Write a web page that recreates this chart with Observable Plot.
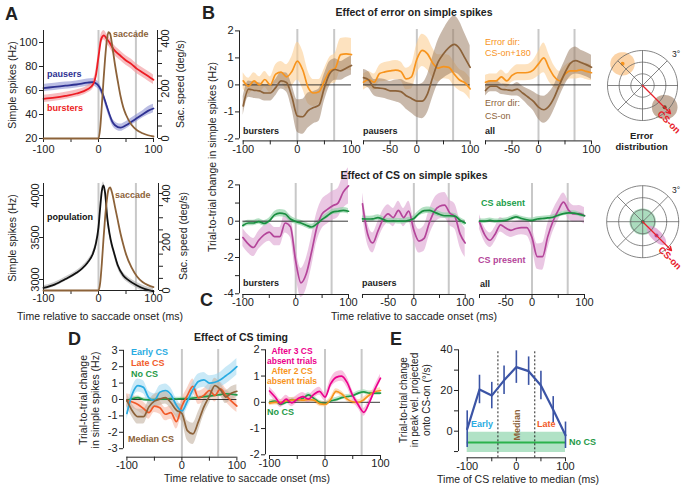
<!DOCTYPE html>
<html><head><meta charset="utf-8">
<script src="https://cdn.jsdelivr.net/npm/d3@7"></script>
<script src="https://cdn.jsdelivr.net/npm/@observablehq/plot@0.6"></script>
<style>
body{margin:0;background:#fff}
#fig{position:relative;width:685px;height:487px;overflow:hidden;background:#fff;font-family:'Liberation Sans',Arial,Helvetica,sans-serif;color:#222}
.t{position:absolute;white-space:nowrap;line-height:1}
</style></head><body><div id="fig"></div>
<script>
// ================= DATA =================
const T = [-100,-90,-80,-70,-60,-50,-40,-30,-20,-10,0,10,20,30,40,50,60,70,80,90,100];
const grayLinesA = [0, 68];
const grayLinesD = [0, 66];
const timeTicks = [-100,-50,0,50,100];

// Panel A top
const tA = [-100,-80,-60,-40,-20,-10,-5,0,5,10,15,20,25,30,40,50,60,70,80,90,100];
const pausersHz  = [62,63,64,65,66.5,67,66,64,60,54,47,40,34,31,29,31,34,37,40,43,45];
const pausersSem = [3,3,3,3,3,3,3,3,3,3,3,3,3,3,3,3,3,3,3,3.5,3.5];
const burstersHz = [53,54,55.5,57.5,61,65,72,88,103,106,103,100,96,93,89,85,82,78,75,72,69];
const burstersSem= [3,3,3,3,3,3.5,4,4,4,4,4,4,4,4,4,4,4,4,4,4,4];
const tSac = [-100,0,3,6,9,12,15,18,21,25,30,35,40,45,50,60,70,80,90,100];
const sacSpeedTop    = [0,0,40,130,230,320,390,425,420,370,295,230,170,125,95,55,33,21,13,8];
const sacSpeedBottom = [0,0,30,110,210,300,370,415,425,400,345,290,235,190,150,95,58,35,22,14];
const sacTicks = [0,50,100,150,200,250,300,350,400];
const sacTickLabels = [0,200,400];
// Panel A bottom
const tPop = [-100,-80,-60,-40,-30,-20,-10,-5,0,3,6,9,12,16,20,24,28,35,45,55,70,85,100];
const popHz  = [2900,2940,3005,3080,3130,3200,3310,3420,3620,3850,4050,4120,4030,3730,3550,3420,3325,3170,3048,2990,2929,2885,2860];
const popSem = [25,25,25,25,25,25,30,30,35,40,40,40,40,40,40,35,35,35,35,35,35,35,35];
const popTicks = [3000,3500,4000];

// Panel B: effect of error (CS-on vs CS-on+180)
const errOnBursters     = [-0.78,-0.16,-0.2,-0.22,-0.3,-0.3,-0.1,0.15,0.09,-0.45,-1.15,-1.18,-0.95,-0.84,-0.75,-0.1,0.42,0.57,0.52,0.62,0.72];
const errOnBurstersSem  = [0.35,0.3,0.3,0.3,0.3,0.3,0.3,0.3,0.35,0.45,0.6,0.65,0.65,0.6,0.6,0.5,0.45,0.4,0.35,0.35,0.35];
const err180Bursters    = [0.15,-0.05,0.15,0.0,0.2,0.0,0.4,0.47,0.3,0.5,0.88,0.55,-0.1,-0.3,-0.25,0.15,0.52,0.62,1.12,1.15,1.12];
const err180BurstersSem = [0.3,0.3,0.3,0.3,0.3,0.3,0.35,0.4,0.45,0.55,0.7,0.7,0.6,0.5,0.45,0.45,0.5,0.55,0.6,0.6,0.6];
const errOnPausers      = [0.27,0.18,-0.1,-0.12,-0.15,-0.22,-0.22,-0.25,-0.4,-0.5,-0.6,-0.6,-0.33,0.3,0.85,1.15,1.38,1.5,1.35,1.0,0.65];
const errOnPausersSem   = [0.3,0.3,0.3,0.35,0.35,0.35,0.4,0.45,0.5,0.55,0.6,0.65,0.7,0.75,0.8,0.9,1.0,1.05,1.0,0.9,0.8];
const err180Pausers     = [0.1,0.2,0.1,0.42,0.48,0.52,0.55,0.5,0.22,0.3,0.95,1.28,1.15,0.8,0.62,0.68,0.65,0.4,0.18,0.08,-0.15];
const err180PausersSem  = [0.3,0.3,0.3,0.3,0.35,0.35,0.35,0.35,0.4,0.45,0.55,0.6,0.6,0.55,0.5,0.45,0.45,0.45,0.4,0.4,0.4];
const errOnAll          = [-0.21,-0.05,-0.05,-0.16,-0.18,-0.21,-0.16,-0.3,-0.45,-0.6,-0.82,-0.92,-0.78,-0.45,0.02,0.45,0.8,0.9,0.83,0.75,0.65];
const errOnAllSem       = [0.2,0.2,0.2,0.2,0.2,0.2,0.25,0.25,0.3,0.35,0.45,0.5,0.5,0.45,0.45,0.45,0.5,0.5,0.45,0.45,0.45];
const err180All         = [0.1,0.15,0.15,0.3,0.15,0.35,0.45,0.45,0.46,0.55,0.78,1.0,0.62,0.3,0.15,0.4,0.52,0.52,0.56,0.5,0.45];
const err180AllSem      = [0.25,0.25,0.25,0.25,0.25,0.25,0.3,0.3,0.3,0.35,0.45,0.55,0.5,0.4,0.35,0.3,0.3,0.3,0.3,0.3,0.3];

// Panel C: effect of CS (present vs absent)
const csPresBursters    = [-0.9,-1.25,-1.45,-1.05,-0.75,-0.6,-0.85,-0.85,-0.1,-0.3,-2.2,-3.4,-2.9,-1.7,-0.35,0.4,0.65,0.85,1.0,1.6,1.95];
const csPresBurstersSem = [0.5,0.5,0.5,0.5,0.5,0.5,0.5,0.5,0.55,0.6,0.75,0.8,0.85,0.85,0.8,0.8,0.8,0.8,0.8,0.9,1.0];
const csAbsBursters     = [-0.24,-0.1,-0.1,-0.02,-0.12,0.02,0.35,0.45,0.4,0.12,-0.02,-0.1,-0.22,-0.32,-0.15,0.1,0.3,0.5,0.55,0.6,0.55];
const csAbsBurstersSem  = [0.15,0.15,0.15,0.15,0.15,0.15,0.18,0.2,0.2,0.18,0.15,0.15,0.15,0.15,0.15,0.15,0.15,0.15,0.15,0.15,0.15];
const csPresPausers     = [0.95,-0.7,-1.2,-0.55,0.1,0.4,0.2,0.6,0.2,0.55,-0.5,-1.1,-0.95,-0.1,0.55,0.82,0.88,0.45,0.25,-0.7,-1.2];
const csPresPausersSem  = [0.6,0.6,0.55,0.5,0.5,0.5,0.5,0.5,0.5,0.55,0.6,0.65,0.7,0.7,0.7,0.7,0.7,0.7,0.7,0.75,0.8];
const csAbsPausers      = [0.13,0.12,0.13,0.2,0.1,0.0,0.02,0.0,0.0,0.05,0.15,0.42,0.58,0.6,0.5,0.38,0.3,0.3,0.28,0.05,-0.1];
const csAbsPausersSem   = [0.15,0.15,0.15,0.15,0.15,0.15,0.15,0.15,0.15,0.15,0.15,0.15,0.18,0.18,0.18,0.15,0.15,0.15,0.15,0.15,0.15];
const csPresAll         = [-0.05,-0.75,-1.05,-0.7,-0.2,-0.38,-0.5,-0.4,-0.35,-0.35,-0.9,-1.95,-1.95,-0.85,0.0,0.6,1.05,0.6,0.4,0.42,0.3];
const csPresAllSem      = [0.4,0.4,0.4,0.4,0.4,0.4,0.4,0.4,0.4,0.45,0.55,0.7,0.75,0.7,0.6,0.55,0.5,0.5,0.45,0.45,0.45];
const csAbsAll          = [0.0,0.0,0.05,0.0,0.02,0.05,0.15,0.24,0.15,0.08,0.05,0.12,0.15,0.18,0.22,0.33,0.42,0.46,0.45,0.38,0.3];
const csAbsAllSem       = [0.12,0.12,0.12,0.12,0.12,0.12,0.12,0.12,0.12,0.12,0.12,0.12,0.12,0.12,0.12,0.12,0.12,0.12,0.12,0.12,0.12];

// Panel D: effect of CS timing
const earlyCS     = [-0.85,0.35,0.85,0.75,0.1,-0.05,0.45,0.55,0.3,-0.35,-0.7,-0.1,0.6,1.1,1.2,1.0,1.05,1.2,1.45,1.7,2.0];
const earlyCSSem  = [0.4,0.4,0.4,0.4,0.4,0.4,0.4,0.4,0.4,0.4,0.4,0.4,0.45,0.45,0.45,0.45,0.45,0.45,0.5,0.5,0.5];
const lateCS      = [-0.05,-0.15,-0.3,-0.55,-0.8,-0.4,-0.5,-0.9,-0.8,-1.35,-0.4,0.25,0.8,0.1,0.25,0.55,0.25,0.65,0.25,-0.1,-0.4];
const lateCSSem   = [0.4,0.4,0.4,0.4,0.4,0.4,0.4,0.4,0.4,0.45,0.45,0.45,0.45,0.4,0.4,0.4,0.4,0.4,0.4,0.4,0.4];
const noCS        = [-0.08,0.05,0.12,0.0,-0.02,0.0,0.02,0.02,0.05,0.03,0.05,0.05,0.08,0.12,0.18,0.2,0.25,0.3,0.35,0.32,0.28];
const noCSSem     = [0.1,0.1,0.1,0.1,0.1,0.1,0.1,0.1,0.1,0.1,0.1,0.1,0.1,0.1,0.1,0.1,0.1,0.1,0.1,0.1,0.1];
const medianCS    = [-0.05,-0.7,-1.05,-1.05,-0.45,-0.1,0.02,0.12,-0.2,-0.65,-0.85,-1.9,-2.1,-1.35,-0.45,0.2,0.85,0.6,0.15,0.38,0.5];
const medianCSSem = [0.4,0.4,0.45,0.45,0.4,0.4,0.4,0.4,0.4,0.45,0.5,0.6,0.65,0.6,0.5,0.45,0.45,0.4,0.4,0.4,0.4];
const after3Absent    = [0.43,0.2,-0.05,0.12,-0.02,0.12,0.22,0.12,0.3,0.42,0.2,0.7,0.95,1.0,0.75,0.25,-0.1,-0.38,0.0,0.5,0.92];
const after3AbsentSem = [0.15,0.15,0.15,0.15,0.15,0.15,0.15,0.15,0.15,0.15,0.15,0.18,0.2,0.2,0.2,0.18,0.15,0.15,0.15,0.15,0.15];
const after2Absent    = [-0.03,0.0,0.0,0.05,0.08,0.1,0.08,0.1,0.08,-0.05,-0.08,0.1,0.42,0.32,0.12,0.02,0.0,0.1,0.28,0.4,0.45];
const after2AbsentSem = [0.1,0.1,0.1,0.1,0.1,0.1,0.1,0.1,0.1,0.1,0.1,0.1,0.1,0.1,0.1,0.1,0.1,0.1,0.1,0.1,0.1];
const noCS2       = [0.0,0.05,-0.08,0.0,0.1,0.08,0.15,0.28,0.15,0.0,-0.05,0.05,0.1,0.18,0.22,0.25,0.35,0.4,0.35,0.35,0.35];
const noCS2Sem    = [0.08,0.08,0.08,0.08,0.08,0.08,0.08,0.08,0.08,0.08,0.08,0.08,0.08,0.08,0.08,0.08,0.08,0.08,0.08,0.08,0.08];

// Panel E
const tE = [-100,-75,-50,-25,0,25,50,75,100];
const peakVel    = [1,20.5,17.5,25,31.5,29.5,22.5,10.5,-2];
const peakVelErr = [9,7,6.5,7,8,7,7,6.5,6.5];
const noCSPeakVel = -5.5, noCSPeakVelErr = 5;
const medianWindow = [-37.5, 37.5];

// Polar plots (degrees)
const polarRings = [1,2,3];
const polarSpokes = [0,45,90,135];
const errCSonCenter = [1.9,-1.86];
const err180Center = [-1.71,1.86];
const csAbsentCenter = [0,0];
const csPresentCenter = [1.15,-1.15];
const csOnDirection = -45;

// ================= LAYOUT HELPERS =================
const fig = document.getElementById("fig");
const FONT = "'Liberation Sans', Arial, Helvetica, sans-serif";
const lin = (v0,p0,v1,p1) => { const k=(p1-p0)/(v1-v0); return p => v0+(p-p0)/k; };
const fmt = list => d => list.includes(d) ? String(d) : "";
const rows = (t,v,e) => t.map((x,i)=>({t:x, v:v[i], lo: e? v[i]-e[i] : null, hi: e? v[i]+e[i] : null}));

function panel(o){
  const ml=o.ml??30, mr=o.mr??10, mt=o.mt??6, mb=o.mb??20;
  const [fL,fR]=o.fx, [fB,fT]=o.fy;
  const xd=[o.xinv(fL),o.xinv(fR)], yd=[o.yinv(fB),o.yinv(fT)];
  const p = Plot.plot({
    width:(fR-fL)+ml+mr, height:(fB-fT)+mt+mb,
    marginLeft:ml, marginRight:mr, marginTop:mt, marginBottom:mb,
    x:{domain:xd, ...o.x}, y:{domain:yd, ...o.y},
    style:{background:"none", fontFamily:FONT, fontSize:"11px", color:"#222", overflow:"visible"},
    marks:o.marks(xd,yd,o.xinv,o.fx)
  });
  p.style.position="absolute"; p.style.left=(fL-ml)+"px"; p.style.top=(fT-mt)+"px";
  fig.appendChild(p);
}
const xAxisOpt = (labels, pad=0) => ({ticks:timeTicks, tickFormat:fmt(labels), tickSize:4, tickPadding:pad, label:null});
const yAxisOpt = (ticks, labels, extra={}) => ({ticks, tickFormat:fmt(labels), tickSize:4, tickPadding:2, label:null, ...extra});
// rotated tick labels drawn as text marks just outside an axis
const rotLabels = (vals, xval) => Plot.text(vals,{x:()=>xval, y:d=>d, text:d=>String(d), rotate:-90, fontSize:11, fill:"#222"});

function tsPanel(o){
  panel({
    fx:o.fx, fy:o.fy, xinv:o.xinv, yinv:o.yinv,
    x:xAxisOpt(o.xLabels),
    y:o.yAxis ? yAxisOpt(o.yAxis.ticks, o.yAxis.labels) : {axis:null},
    marks:(xd,yd)=>[
      Plot.ruleX(o.gray, {stroke:"#c8c8c8", strokeWidth:2}),
      ...o.series.map(s=>Plot.areaY(s.rows,{x:"t",y1:"lo",y2:"hi",fill:s.band,fillOpacity:s.bo??0.6,curve:"monotone-x"})),
      Plot.ruleY([0],{x1:-100,x2:100,stroke:"#222",strokeWidth:0.9}),
      ...o.series.map(s=>Plot.lineY(s.rows,{x:"t",y:"v",stroke:s.color,strokeWidth:1.7,curve:"monotone-x"})),
      Plot.ruleY([yd[0]],{x1:-100,x2:100,stroke:"#222"}),
      o.yAxis ? Plot.ruleX([xd[0]],{y1:o.yAxis.ticks[0], y2:o.yAxis.ticks[o.yAxis.ticks.length-1], stroke:"#222"}) : null
    ]
  });
}

function lab(s,x,y,o={}){
  const d=document.createElement("div"); d.className="t"; d.textContent=s;
  d.style.left=x+"px"; d.style.top=y+"px";
  d.style.fontSize=(o.size||9)+"px"; d.style.fontWeight=o.bold?"bold":"normal"; d.style.color=o.color||"#222";
  const ax=o.anchor==="middle"?"-50%":o.anchor==="end"?"-100%":"0";
  d.style.transform=`translate(${ax},-50%)`+(o.rotate?` rotate(${o.rotate}deg)`:"");
  fig.appendChild(d);
}

// ================= PANEL A =================
const xA = lin(-100,43,100,153);
// top: simple spikes
panel({
  fx:[43,153], fy:[138,30], xinv:xA, yinv:lin(20,138,100,42),
  x:xAxisOpt([-100,0,100],3), y:yAxisOpt([20,40,60,80,100],[20,40,60,80,100]),
  marks:(xd,yd)=>[
    Plot.ruleX(grayLinesA,{stroke:"#c8c8c8",strokeWidth:2}),
    Plot.areaY(rows(tA,pausersHz,pausersSem),{x:"t",y1:"lo",y2:"hi",fill:"#8e92d2",fillOpacity:0.6,curve:"monotone-x"}),
    Plot.areaY(rows(tA,burstersHz,burstersSem),{x:"t",y1:"lo",y2:"hi",fill:"#f39a9e",fillOpacity:0.65,curve:"monotone-x"}),
    Plot.lineY(rows(tA,pausersHz),{x:"t",y:"v",stroke:"#2e3192",strokeWidth:1.8,curve:"monotone-x"}),
    Plot.lineY(rows(tA,burstersHz),{x:"t",y:"v",stroke:"#ed1c24",strokeWidth:1.8,curve:"monotone-x"}),
    Plot.ruleY([yd[0]],{x1:-100,x2:100,stroke:"#222"}),
    Plot.ruleX([xd[0]],{y1:20,y2:yd[1],stroke:"#222"})
  ]
});
panel({
  fx:[43,157], fy:[138,30], xinv:xA, yinv:lin(0,138,400,38), ml:0, mr:30,
  x:{axis:null}, y:yAxisOpt(sacTicks,[],{axis:"right"}),
  marks:(xd,yd,xi,fx)=>[
    Plot.lineY(rows(tSac,sacSpeedTop),{x:"t",y:"v",stroke:"#8c6239",strokeWidth:1.8,curve:"monotone-x"}),
    Plot.ruleX([xd[1]],{y1:0,y2:yd[1],stroke:"#222"}),
    rotLabels(sacTickLabels, xi(fx[1]+8))
  ]
});
// bottom: population
panel({
  fx:[43,153], fy:[290,183], xinv:xA, yinv:lin(3000,279,4000,195),
  x:xAxisOpt([-100,0,100]), y:yAxisOpt(popTicks,[]),
  marks:(xd,yd,xi,fx)=>[
    Plot.ruleX(grayLinesA,{stroke:"#c8c8c8",strokeWidth:2}),
    Plot.areaY(rows(tPop,popHz,popSem),{x:"t",y1:"lo",y2:"hi",fill:"#aaaaaa",fillOpacity:0.6,curve:"monotone-x"}),
    Plot.lineY(rows(tPop,popHz),{x:"t",y:"v",stroke:"#111",strokeWidth:1.8,curve:"monotone-x"}),
    Plot.ruleY([yd[0]],{x1:-100,x2:100,stroke:"#222"}),
    Plot.ruleX([xd[0]],{y1:yd[0],y2:yd[1],stroke:"#222"}),
    rotLabels(popTicks, xi(fx[0]-8))
  ]
});
panel({
  fx:[43,158], fy:[290,183], xinv:xA, yinv:lin(0,290,400,193), ml:0, mr:30,
  x:{axis:null}, y:yAxisOpt(sacTicks,[],{axis:"right"}),
  marks:(xd,yd,xi,fx)=>[
    Plot.lineY(rows(tSac,sacSpeedBottom),{x:"t",y:"v",stroke:"#8c6239",strokeWidth:1.8,curve:"monotone-x"}),
    Plot.ruleX([xd[1]],{y1:0,y2:yd[1],stroke:"#222"}),
    rotLabels(sacTickLabels, xi(fx[1]+8))
  ]
});

// ================= PANEL B =================
const yB = lin(0,84,1,57);
const bOr = "#f7941d", bOrBand = "#fbcf95", bBr = "#8c6239", bBrBand = "#9c7f66";
const bSeries = (on,onS,o180,o180S)=>[
  {rows:rows(T,o180,o180S), color:bOr, band:bOrBand, bo:0.6},
  {rows:rows(T,on,onS), color:bBr, band:bBrBand, bo:0.55}
];
tsPanel({fx:[239,351], fy:[140,28.6], xinv:lin(-100,242.7,100,351), yinv:yB, xLabels:[-100,0,100],
  yAxis:{ticks:[-2,-1,0,1,2], labels:[-2,-1,0,1,2]}, gray:grayLinesA,
  series:bSeries(errOnBursters,errOnBurstersSem,err180Bursters,err180BurstersSem)});
tsPanel({fx:[363.3,470], fy:[140,28.6], xinv:lin(-100,363.3,100,470), yinv:yB, xLabels:[-50,0,100],
  gray:grayLinesA, series:bSeries(errOnPausers,errOnPausersSem,err180Pausers,err180PausersSem)});
tsPanel({fx:[485,591], fy:[140,28.6], xinv:lin(-100,485,100,591), yinv:yB, xLabels:[-50,0,100],
  gray:grayLinesA, series:bSeries(errOnAll,errOnAllSem,err180All,err180AllSem)});

// ================= PANEL C =================
const yC = lin(0,220.7,-4,293.3);
const cMg = "#b4459a", cMgBand = "#dfa9d4", cGr = "#1a8e40", cGrBand = "#93d3a8";
const cSeries = (pres,presS,abs,absS)=>[
  {rows:rows(T,pres,presS), color:cMg, band:cMgBand, bo:0.65},
  {rows:rows(T,abs,absS), color:cGr, band:cGrBand, bo:0.7}
];
tsPanel({fx:[239.3,348.3], fy:[294,183], xinv:lin(-100,242.7,100,348.3), yinv:yC, xLabels:[-100,0,100],
  yAxis:{ticks:[-4,-3,-2,-1,0,1,2], labels:[-4,-2,0,2]}, gray:grayLinesA,
  series:cSeries(csPresBursters,csPresBurstersSem,csAbsBursters,csAbsBurstersSem)});
tsPanel({fx:[362.3,465], fy:[294,183], xinv:lin(-100,362.3,100,465), yinv:yC, xLabels:[-50,0,100],
  gray:grayLinesA, series:cSeries(csPresPausers,csPresPausersSem,csAbsPausers,csAbsPausersSem)});
tsPanel({fx:[479.3,584.3], fy:[294,183], xinv:lin(-100,479.3,100,584.3), yinv:yC, xLabels:[-50,0,100],
  gray:grayLinesA, series:cSeries(csPresAll,csPresAllSem,csAbsAll,csAbsAllSem)});

// ================= PANEL D =================
tsPanel({fx:[123.3,236.7], fy:[456.7,349], xinv:lin(-100,126.7,100,236.7), yinv:lin(0,399,3,349.8), xLabels:[-100,0,100],
  yAxis:{ticks:[-3,-2,-1,0,1,2,3], labels:[-3,-2,-1,0,1,2,3]}, gray:grayLinesD,
  series:[
    {rows:rows(T,noCS,noCSSem), color:"#1f9a48", band:"#a6dab6", bo:0.7},
    {rows:rows(T,lateCS,lateCSSem), color:"#f15a29", band:"#f6b09a", bo:0.55},
    {rows:rows(T,earlyCS,earlyCSSem), color:"#29abe2", band:"#9dd7f0", bo:0.55},
    {rows:rows(T,medianCS,medianCSSem), color:"#8c6239", band:"#c3b2a2", bo:0.6}
  ]});
tsPanel({fx:[265,380], fy:[455,349], xinv:lin(-100,269,100,380), yinv:lin(2,349.3,-2,454.3), xLabels:[-100,0,100],
  yAxis:{ticks:[-2,-1,0,1,2], labels:[-2,-1,0,1,2]}, gray:grayLinesD,
  series:[
    {rows:rows(T,noCS2,noCS2Sem), color:"#1f9a48", band:"#a6dab6", bo:0.7},
    {rows:rows(T,after2Absent,after2AbsentSem), color:"#f7941d", band:"#fcd0a0", bo:0.7},
    {rows:rows(T,after3Absent,after3AbsentSem), color:"#ec008c", band:"#f5a6d2", bo:0.7}
  ]});

// ================= PANEL E =================
panel({
  fx:[458,565], fy:[457.3,349], xinv:lin(-100,466.7,100,565), yinv:lin(0,430.7,40,349.3),
  x:xAxisOpt([-100,0,100]), y:yAxisOpt([-10,0,10,20,30,40],[0,20,40]),
  marks:(xd,yd)=>[
    Plot.areaY([{t:-100},{t:100}],{x:"t",y1:noCSPeakVel-noCSPeakVelErr,y2:noCSPeakVel+noCSPeakVelErr,fill:"#a8dfc0",fillOpacity:0.9}),
    Plot.ruleY([noCSPeakVel],{x1:-100,x2:100,stroke:"#2bb24c",strokeWidth:2}),
    Plot.ruleX(medianWindow,{y1:yd[0],y2:40,stroke:"#222",strokeDasharray:"2,2",strokeWidth:1}),
    Plot.ruleX(rows(tE,peakVel,peakVelErr),{x:"t",y1:"lo",y2:"hi",stroke:"#3b54a5",strokeWidth:1.6}),
    Plot.lineY(rows(tE,peakVel),{x:"t",y:"v",stroke:"#3b54a5",strokeWidth:2.2}),
    Plot.ruleY([yd[0]],{x1:-100,x2:100,stroke:"#222"}),
    Plot.ruleX([xd[0]],{y1:-10,y2:40,stroke:"#222"})
  ]
});

// ================= POLAR PLOTS =================
const rad = a => a*Math.PI/180;
const ringPts = polarRings.flatMap(r=>d3.range(0,361,4).map(a=>({r, x:r*Math.cos(rad(a)), y:r*Math.sin(rad(a))})));
const spokePts = polarSpokes.map(a=>({x1:3*Math.cos(rad(a)), y1:3*Math.sin(rad(a)), x2:-3*Math.cos(rad(a)), y2:-3*Math.sin(rad(a))}));
const ellipse = (c,a,b,th) => d3.range(0,361,8).map(u=>({x:c[0]+a*Math.cos(rad(u))*Math.cos(rad(th))-b*Math.sin(rad(u))*Math.sin(rad(th)),
                                                       y:c[1]+a*Math.cos(rad(u))*Math.sin(rad(th))+b*Math.sin(rad(u))*Math.cos(rad(th))}));
const arrowTip = len => [{x1:0,y1:0,x2:len*Math.cos(rad(csOnDirection)),y2:len*Math.sin(rad(csOnDirection))}];
function polar(cx,cy,k,blobs){
  const h=3.6;
  panel({fx:[cx-h*k,cx+h*k], fy:[cy+h*k,cy-h*k], xinv:lin(0,cx,1,cx+k), yinv:lin(0,cy,1,cy-k), ml:0,mr:0,mt:0,mb:0,
    x:{axis:null}, y:{axis:null},
    marks:()=>[
      ...blobs,
      Plot.line(ringPts,{x:"x",y:"y",z:"r",stroke:"#666",strokeWidth:0.8}),
      Plot.link(spokePts,{x1:"x1",y1:"y1",x2:"x2",y2:"y2",stroke:"#666",strokeWidth:0.8}),
      Plot.arrow(arrowTip(3.4),{x1:"x1",y1:"y1",x2:"x2",y2:"y2",stroke:"#e8212b",strokeWidth:1.3,headLength:5})
    ]});
}
polar(641.7,85,11.67,[
  Plot.line(ellipse(err180Center,1.05,1.0,0),{x:"x",y:"y",fill:"#f9c48a",fillOpacity:0.75,stroke:"none"}),
  Plot.line(ellipse(errCSonCenter,1.1,1.05,0),{x:"x",y:"y",fill:"#9c7a5e",fillOpacity:0.6,stroke:"none"}),
  Plot.dot([err180Center],{x:d=>d[0],y:d=>d[1],r:2,fill:"#f7941d"}),
  Plot.dot([errCSonCenter],{x:d=>d[0],y:d=>d[1],r:2,fill:"#6b4a2b"})
]);
polar(641.7,220.7,12,[
  Plot.line(ellipse(csAbsentCenter,1.1,1.1,0),{x:"x",y:"y",fill:"#8fd0a8",fillOpacity:0.75,stroke:"none"}),
  Plot.line(ellipse(csPresentCenter,1.05,0.45,-45),{x:"x",y:"y",fill:"#dc9fcf",fillOpacity:0.8,stroke:"none"}),
  Plot.dot([csPresentCenter],{x:d=>d[0],y:d=>d[1],r:2,fill:"#b4459a"}),
  Plot.dot([csAbsentCenter],{x:d=>d[0],y:d=>d[1],r:2,fill:"#1a8e40"})
]);

// ================= TEXT =================
const big = {size:18,bold:true};
lab("A",5,14,big); lab("B",202,13,big); lab("C",200,300,big); lab("D",68,339,big); lab("E",390,339,big);
// A
lab("Simple spikes (Hz)",12,85,{size:10.5,anchor:"middle",rotate:-90});
lab("Sac. speed (deg/s)",180,84,{size:10.5,anchor:"middle",rotate:-90});
lab("pausers",47,73.5,{bold:true,color:"#2e3192"});
lab("bursters",47,108,{bold:true,color:"#ed1c24"});
lab("saccade",113,34,{bold:true,color:"#8c6239"});
lab("Simple spikes (Hz)",12,238,{size:10.5,anchor:"middle",rotate:-90});
lab("Sac. speed (deg/s)",183,236,{size:10.5,anchor:"middle",rotate:-90});
lab("population",47,217,{bold:true,color:"#111"});
lab("saccade",115,195,{bold:true,color:"#8c6239"});
lab("Time relative to saccade onset (ms)",100,316,{size:10.5,anchor:"middle"});
// B
lab("Effect of error on simple spikes",414,12,{size:10.5,bold:true,anchor:"middle"});
lab("Trial-to-trial change in simple spikes (Hz)",212,157,{size:10.5,anchor:"middle",rotate:-90});
lab("bursters",243,131,{bold:true}); lab("pausers",363,131,{bold:true}); lab("all",485,131,{bold:true});
lab("Error dir:",485,42,{color:"#f7941d"}); lab("CS-on+180",485,53,{color:"#f7941d"});
lab("Error dir:",485,103,{color:"#8c6239"}); lab("CS-on",485,116,{color:"#8c6239"});
lab("3°",672,54,{size:8.5});
lab("CS-on",669,122,{size:9.5,bold:true,color:"#e8212b",anchor:"middle",rotate:45});
lab("Error",641.7,136,{size:9.5,bold:true,anchor:"middle"});
lab("distribution",641.7,147,{size:9.5,bold:true,anchor:"middle"});
// C
lab("Effect of CS on simple spikes",414,175,{size:10.5,bold:true,anchor:"middle"});
lab("bursters",243,283,{bold:true}); lab("pausers",362,283,{bold:true}); lab("all",480,284,{bold:true});
lab("CS absent",481,203,{bold:true,color:"#1a9e4a"});
lab("CS present",478,260,{bold:true,color:"#b4459a"});
lab("Time relative to saccade onset (ms)",414,316,{size:10.5,anchor:"middle"});
lab("3°",672,190,{size:8.5});
lab("CS-on",670,258,{size:9.5,bold:true,color:"#e8212b",anchor:"middle",rotate:45});
// D
lab("Effect of CS timing",241,337,{size:10.5,bold:true,anchor:"middle"});
lab("Trial-to-trial change",83,400,{size:10.5,anchor:"middle",rotate:-90});
lab("in simple spikes (Hz)",94.5,400,{size:10.5,anchor:"middle",rotate:-90});
lab("Early CS",131,352,{bold:true,color:"#29abe2"});
lab("Late CS",131,363,{bold:true,color:"#f15a29"});
lab("No CS",131,373.5,{bold:true,color:"#1f9a48"});
lab("Median CS",128,439,{bold:true,color:"#8c6239"});
lab("After 3 CS",292,351,{size:8.5,bold:true,color:"#ec008c",anchor:"middle"});
lab("absent trials",292,361,{size:8.5,bold:true,color:"#ec008c",anchor:"middle"});
lab("After 2 CS",292,371,{size:8.5,bold:true,color:"#f7941d",anchor:"middle"});
lab("absent trials",292,381,{size:8.5,bold:true,color:"#f7941d",anchor:"middle"});
lab("No CS",267,412,{bold:true,color:"#1f9a48"});
lab("Time relative to saccade onset (ms)",247,478,{size:10.5,anchor:"middle"});
// E
lab("Trial-to-trial change",403.5,400,{size:10,anchor:"middle",rotate:-90});
lab("in peak vel. projected",415,400,{size:10,anchor:"middle",rotate:-90});
lab("onto CS-on (°/s)",427,400,{size:10,anchor:"middle",rotate:-90});
lab("Early",471,424,{bold:true,color:"#29abe2"});
lab("Late",537,424,{bold:true,color:"#f15a29"});
lab("Median",516.5,425,{bold:true,color:"#8c6239",anchor:"middle",rotate:-90});
lab("No CS",569,442,{bold:true,color:"#1f9a48"});
lab("Time of CS relative to median (ms)",518,479,{size:10.5,anchor:"middle"});
</script></body></html>
